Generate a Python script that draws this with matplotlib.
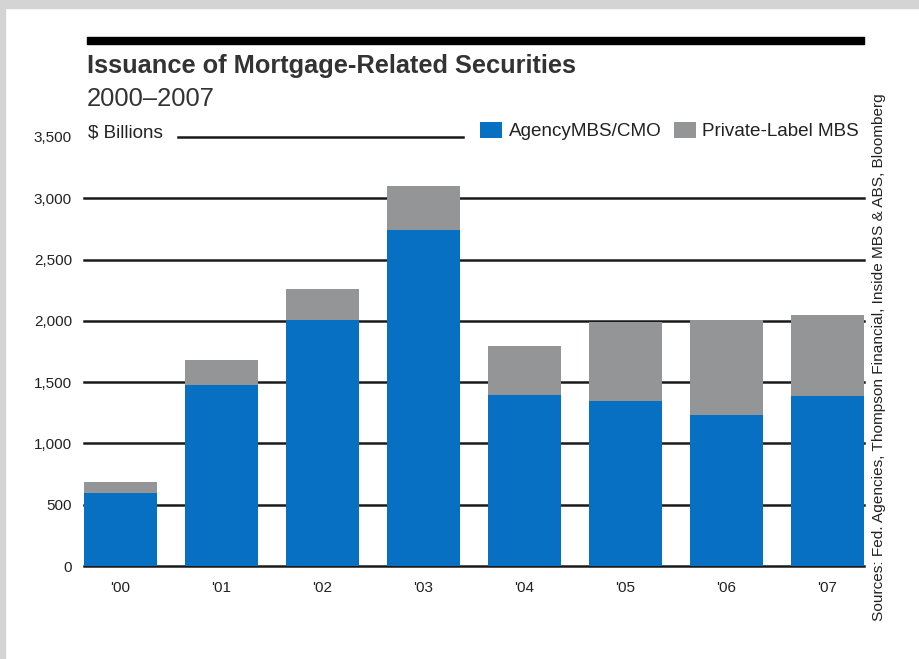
import matplotlib
matplotlib.use('Agg')
import matplotlib.pyplot as plt
from matplotlib.patches import Rectangle, Patch
import numpy as np

# ---- data ----
years = ["'00", "'01", "'02", "'03", "'04", "'05", "'06", "'07"]
agency = [592, 1474, 2009, 2742, 1398, 1344, 1230, 1385]
private_label = [90, 210, 250, 361, 397, 646, 779, 662]
yticks = [0, 500, 1000, 1500, 2000, 2500, 3000, 3500]
ytick_labels = ['0', '500', '1,000', '1,500', '2,000', '2,500', '3,000', '3,500']
series_names = ['AgencyMBS/CMO', 'Private-Label MBS']
title = 'Issuance of Mortgage-Related Securities'
subtitle = '2000\u20132007'
unit_label = '$ Billions'
source = 'Sources: Fed. Agencies, Thompson Financial, Inside MBS & ABS, Bloomberg'

BLUE = '#0770c2'
GRAY = '#939597'
TXT = '#222222'
FONT = ['Liberation Sans', 'DejaVu Sans']

plt.rcParams['font.family'] = FONT

W, H = 920, 659
fig = plt.figure(figsize=(W / 100, H / 100), dpi=100)
fig.patch.set_facecolor('white')

ax_l, ax_r, ax_b, ax_t = 84, 864, 566, 137
ax = fig.add_axes([ax_l / W, 1 - ax_b / H, (ax_r - ax_l) / W, (ax_b - ax_t) / H])

x = np.arange(len(years))
w = 0.723
ax.bar(x, agency, w, color=BLUE, zorder=3, label=series_names[0])
ax.bar(x, private_label, w, bottom=agency, color=GRAY, zorder=3, label=series_names[1])
ax.set_xlim(-w / 2, len(years) - 1 + w / 2)
ax.set_ylim(0, yticks[-1])

for t in yticks[:-1]:
    ax.axhline(t, color='#1a1a1a', lw=1.8, zorder=1, clip_on=False)
ax.axhline(yticks[-1], xmin=(178 - ax_l) / (ax_r - ax_l), xmax=(463 - ax_l) / (ax_r - ax_l),
           color='#1a1a1a', lw=1.8, zorder=1, clip_on=False)

for s in ax.spines.values():
    s.set_visible(False)
ax.set_yticks(yticks)
ax.set_yticklabels(ytick_labels)
ax.set_xticks(x)
ax.set_xticklabels(years)
ax.tick_params(axis='y', length=0, pad=8.6, labelsize=11, labelcolor=TXT)
ax.tick_params(axis='x', length=0, pad=11, labelsize=11, labelcolor=TXT)
ax.set_facecolor('none')

# legend
handles = [Patch(facecolor=BLUE, edgecolor='none'), Patch(facecolor=GRAY, edgecolor='none')]
leg = fig.legend(handles, series_names, loc='center right', ncol=2,
                 bbox_to_anchor=(859 / W, 1 - 131 / H), frameon=False,
                 fontsize=13.6, handlelength=1.17, handleheight=0.95,
                 handletextpad=0.32, columnspacing=0.68, borderpad=0, borderaxespad=0)
for t in leg.get_texts():
    t.set_color(TXT)

# texts
fig.text(87 / W, 1 - 73 / H, title, fontsize=18.3, fontweight='bold', color='#333333', va='baseline')
fig.text(87 / W, 1 - 106 / H, subtitle, fontsize=18.4, color='#333333', va='baseline')
fig.text(88 / W, 1 - 133 / H, unit_label, fontsize=13.6, color=TXT, va='center')
fig.text(879 / W, 1 - 357 / H, source, fontsize=11.1, rotation=90, color=TXT,
         ha='center', va='center')

# top rule
fig.add_artist(Rectangle((87 / W, 1 - 43.5 / H), (864 - 87) / W, 7 / H,
                         transform=fig.transFigure, color='black', zorder=5))

# frame
fig.add_artist(Rectangle((0, 1 - 8 / H), 1, 8 / H, transform=fig.transFigure,
                         color='#d4d4d4', zorder=10))
fig.add_artist(Rectangle((0, 0), 5 / W, 1, transform=fig.transFigure,
                         color='#d4d4d4', zorder=10))

fig.savefig('out.png', dpi=100)
